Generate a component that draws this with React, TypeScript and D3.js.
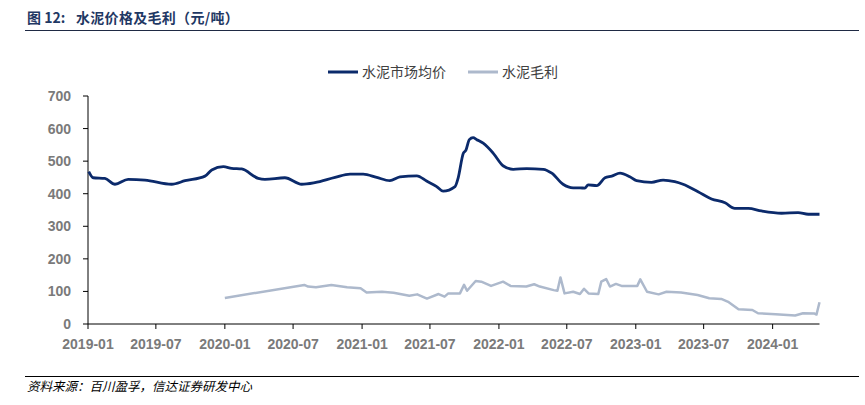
import React, { useEffect, useRef } from "react";
import * as d3 from "d3";

const priceDates = ["2019-01-03","2019-01-15","2019-02-15","2019-03-14","2019-04-18","2019-06-02","2019-08-12","2019-09-17","2019-11-09","2019-11-27","2019-12-28","2020-01-19","2020-02-15","2020-03-30","2020-04-17","2020-06-09","2020-07-24","2020-08-28","2020-10-21","2020-11-30","2021-01-04","2021-02-09","2021-03-16","2021-04-12","2021-05-27","2021-06-22","2021-07-19","2021-08-05","2021-09-06","2021-09-14","2021-09-28","2021-10-05","2021-10-14","2021-10-24","2021-11-03","2021-11-20","2021-12-17","2022-01-13","2022-02-08","2022-03-16","2022-04-29","2022-05-22","2022-06-21","2022-07-18","2022-08-05","2022-08-18","2022-08-27","2022-09-19","2022-10-11","2022-10-29","2022-11-20","2022-12-16","2023-01-03","2023-02-12","2023-03-15","2023-04-15","2023-05-07","2023-06-16","2023-07-22","2023-08-27","2023-09-22","2023-10-28","2023-12-02","2024-01-25","2024-03-09","2024-04-05","2024-05-05"];
const priceValues = [468,449,447,429,444,442,429,440,454,473,483,478,476,447,444,449,429,434,450,460,460,450,440,452,455,439,422,408,422,447,524,534,566,572,566,555,524,485,475,477,475,463,429,418,418,417,427,425,449,454,463,452,440,435,442,437,429,406,384,372,355,355,347,340,342,337,337];

const marginDates = ["2020-01-01","2020-07-31","2020-08-10","2020-08-31","2020-10-11","2020-11-22","2020-12-28","2021-01-13","2021-02-23","2021-03-26","2021-05-07","2021-05-28","2021-06-23","2021-07-24","2021-08-09","2021-08-19","2021-09-19","2021-09-30","2021-10-08","2021-10-31","2021-11-15","2021-12-11","2022-01-12","2022-02-01","2022-03-15","2022-04-05","2022-04-20","2022-05-27","2022-06-06","2022-06-14","2022-06-25","2022-07-18","2022-08-05","2022-08-16","2022-08-28","2022-09-23","2022-10-01","2022-10-14","2022-10-24","2022-11-09","2022-11-24","2023-01-05","2023-01-13","2023-01-31","2023-03-03","2023-03-24","2023-05-02","2023-06-15","2023-07-16","2023-08-17","2023-09-06","2023-10-02","2023-11-08","2023-11-23","2024-01-09","2024-03-01","2024-03-22","2024-04-22","2024-04-27","2024-05-05"];
const marginValues = [80,120,115,113,120,113,110,97,99,96,87,91,78,92,84,94,94,120,102,132,130,117,130,117,115,122,115,104,102,143,94,99,92,108,94,92,130,138,115,123,117,117,137,99,91,99,97,89,79,77,67,45,43,33,30,26,33,32,29,67];

const yTicks = [0, 100, 200, 300, 400, 500, 600, 700];
const xTickLabels = ["2019-01","2019-07","2020-01","2020-07","2021-01","2021-07","2022-01","2022-07","2023-01","2023-07","2024-01"];
const seriesNames = ["水泥市场均价", "水泥毛利"];
const titlePrefix = "图 12:";
const titleText = "水泥价格及毛利（元/吨）";
const sourceText = "资料来源：百川盈孚，信达证券研发中心";

const NAVY = "#0b2a6b";
const GRAY = "#adb9cc";

export default function App() {
  const ref = useRef<SVGSVGElement>(null);

  useEffect(() => {
    const svg = d3.select(ref.current);
    svg.selectAll("*").remove();
    const parse = d3.utcParse("%Y-%m-%d");
    const parseM = d3.utcParse("%Y-%m");

    const x = d3.scaleUtc()
      .domain([parse("2019-01-01")!, parse("2024-05-05")!])
      .range([88, 819.5]);
    const y = d3.scaleLinear().domain([0, 700]).range([324, 96]);

    const cjk = "'Noto Sans CJK SC', 'Noto Sans', sans-serif";
    const latin = "'Liberation Sans', Arial, sans-serif";

    // title
    svg.append("text").attr("x", 27).attr("y", 23)
      .attr("font-family", cjk).attr("font-size", 14).attr("font-weight", "bold")
      .attr("fill", "#1f3864").text(titlePrefix);
    svg.append("text").attr("x", 76).attr("y", 23)
      .attr("font-family", cjk).attr("font-size", 14).attr("font-weight", "bold")
      .attr("letter-spacing", 0.3)
      .attr("fill", "#1f3864").text(titleText);
    svg.append("line").attr("x1", 25).attr("x2", 859).attr("y1", 30.5).attr("y2", 30.5)
      .attr("stroke", "#1f2a44").attr("stroke-width", 1.2);

    // legend
    const legend = svg.append("g");
    const lx = [328, 468];
    seriesNames.forEach((n, i) => {
      legend.append("line").attr("x1", lx[i]).attr("x2", lx[i] + 30).attr("y1", 72).attr("y2", 72)
        .attr("stroke", i === 0 ? NAVY : GRAY).attr("stroke-width", 3);
      legend.append("text").attr("x", lx[i] + 34).attr("y", 77)
        .attr("font-family", cjk).attr("font-size", 14).attr("fill", "#404040").text(n);
    });

    // y axis
    const gy = svg.append("g");
    gy.append("line").attr("x1", 88).attr("x2", 88).attr("y1", y(700)).attr("y2", y(0))
      .attr("stroke", "#000").attr("stroke-width", 1);
    yTicks.forEach((t) => {
      gy.append("line").attr("x1", 83).attr("x2", 88).attr("y1", y(t)).attr("y2", y(t))
        .attr("stroke", "#000").attr("stroke-width", 1);
      gy.append("text").attr("x", 71).attr("y", y(t) + 5).attr("text-anchor", "end")
        .attr("font-family", latin).attr("font-size", 14).attr("font-weight", "bold")
        .attr("fill", "#7a7a7a").text(String(t));
    });

    // x axis
    const gx = svg.append("g");
    gx.append("line").attr("x1", 88).attr("x2", 819.5).attr("y1", 324).attr("y2", 324)
      .attr("stroke", "#000").attr("stroke-width", 1);
    xTickLabels.forEach((l) => {
      const xv = x(parseM(l)!);
      gx.append("line").attr("x1", xv).attr("x2", xv).attr("y1", 324).attr("y2", 329)
        .attr("stroke", "#000").attr("stroke-width", 1);
      gx.append("text").attr("x", xv).attr("y", 349).attr("text-anchor", "middle")
        .attr("font-family", latin).attr("font-size", 14).attr("font-weight", "bold")
        .attr("fill", "#7a7a7a").text(l);
    });

    const line = d3.line<[Date, number]>().x((d) => x(d[0])).y((d) => y(d[1])).curve(d3.curveLinear);

    const mData: [Date, number][] = marginDates.map((d, i) => [parse(d)!, marginValues[i]]);
    const pData: [Date, number][] = priceDates.map((d, i) => [parse(d)!, priceValues[i]]);

    svg.append("path").attr("d", line(mData)!).attr("fill", "none")
      .attr("stroke", GRAY).attr("stroke-width", 2.5).attr("stroke-linejoin", "round");
    svg.append("path").attr("d", d3.line<[Date, number]>().x((d) => x(d[0])).y((d) => y(d[1])).curve(d3.curveMonotoneX)(pData)!)
      .attr("fill", "none").attr("stroke", NAVY).attr("stroke-width", 2.8).attr("stroke-linejoin", "round");

    // footer
    svg.append("line").attr("x1", 25).attr("x2", 859).attr("y1", 376.5).attr("y2", 376.5)
      .attr("stroke", "#000").attr("stroke-width", 1);
    svg.append("text").attr("x", 27).attr("y", 391)
      .attr("font-family", cjk).attr("font-size", 12.5).attr("font-style", "italic")
      .attr("fill", "#000").text(sourceText);
  }, []);

  return (
    <div style={{ position: "absolute", left: 0, top: 0 }}>
      <svg ref={ref} width={865} height={405} style={{ display: "block", background: "#fff" }} />
    </div>
  );
}
